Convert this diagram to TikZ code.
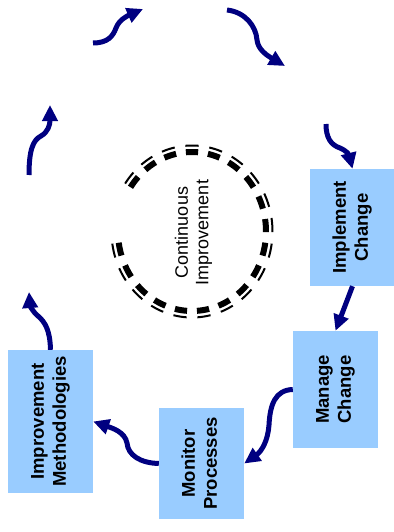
\documentclass[tikz,border=0pt]{standalone}
\usepackage{fontspec}
\setmainfont{Liberation Sans}
\usepackage{tikz}
\usetikzlibrary{arrows.meta}

\definecolor{navy}{RGB}{0,0,128}
\definecolor{boxblue}{RGB}{153,204,255}
\newcommand{\vlabel}[1]{\rotatebox{90}{\begin{tabular}{@{}c@{}}#1\end{tabular}}}

\begin{document}
\begin{tikzpicture}[x=1pt,y=-1pt,>={Triangle[length=16pt,width=15pt]},
                    flow/.style={->,line width=5pt,draw=navy},
                    box/.style={rectangle,fill=boxblue,inner sep=0pt,minimum width=85,
                                font=\fontsize{18.5}{22}\selectfont\bfseries}]
  \useasboundingbox (0,0) rectangle (393,532);

  \node[box,minimum height=117] (IC) at (352.5,227.5) {\vlabel{Implement\\Change}};
  \node[box,minimum height=117] (MC) at (335.5,389.5) {\vlabel{Manage\\Change}};
  \node[box,minimum height=111] (MP) at (201.5,463.5) {\vlabel{Monitor\\Processes}};
  \node[box,minimum height=143] (IM) at (50.5,421.5)  {\vlabel{Improvement\\Methodologies}};
  \node[font=\fontsize{18}{20.7}\selectfont] (CI) at (194,232.5) {\vlabel{Continuous\\Improvement}};

  % free ends of the open steps
  \coordinate (s1) at (93,43);
  \coordinate (e1) at (143,9);
  \coordinate (s2) at (227,10);
  \coordinate (e2) at (285,66);
  \coordinate (s3) at (326,124);
  \coordinate (e7) at (29,292);
  \coordinate (s8) at (29,175);
  \coordinate (e8) at (50,105);

  % broken ring round the middle text
  \foreach \k in {0,1,2,3,6,7,...,20}{
    \pgfmathsetmacro{\ta}{90+\k*360/21-4.75}
    \pgfmathsetmacro{\tb}{90+\k*360/21+4.75}
    \draw[line width=6pt] plot[domain=\ta:\tb,samples=8] ({192+74*cos(\x)},{231.5-79.5*sin(\x)});
    \draw[line width=2pt] plot[domain=\ta:\tb,samples=8] ({192+80.5*cos(\x)},{231.5-86*sin(\x)});
  }

  \draw[flow] (s1) .. controls (108,43) and (113,36) .. (116,28)
                   .. controls (119,20) and (127,16) .. (e1);
  \draw[flow] (s2) .. controls (245,12) and (256,26) .. (257,40)
                   .. controls (258,50) and (268,56) .. (e2);
  \draw[flow] (s3) .. controls (326,138) and (331,145) .. (340,148)
                   .. controls (347,151) and (349,155) .. (IC.north);
  \draw[flow] (IC.south) -- (MC.north);
  \draw[flow] (MC.west) .. controls (275,390) and (270,405) .. (269,425)
                        .. controls (268,440) and (262,451) .. (MP.east);
  \draw[flow] (MP.west) .. controls (140,463) and (128,455) .. (127,443)
                        .. controls (125,432) and (112,428) .. (IM.east);
  \draw[flow] (IM.north) .. controls (50,330) and (45,322) .. (38,316)
                         .. controls (32,311) and (30,305) .. (e7);
  \draw[flow] (s8) .. controls (29,150) and (33,140) .. (41,136)
                   .. controls (48,132) and (50,125) .. (e8);
\end{tikzpicture}
\end{document}
